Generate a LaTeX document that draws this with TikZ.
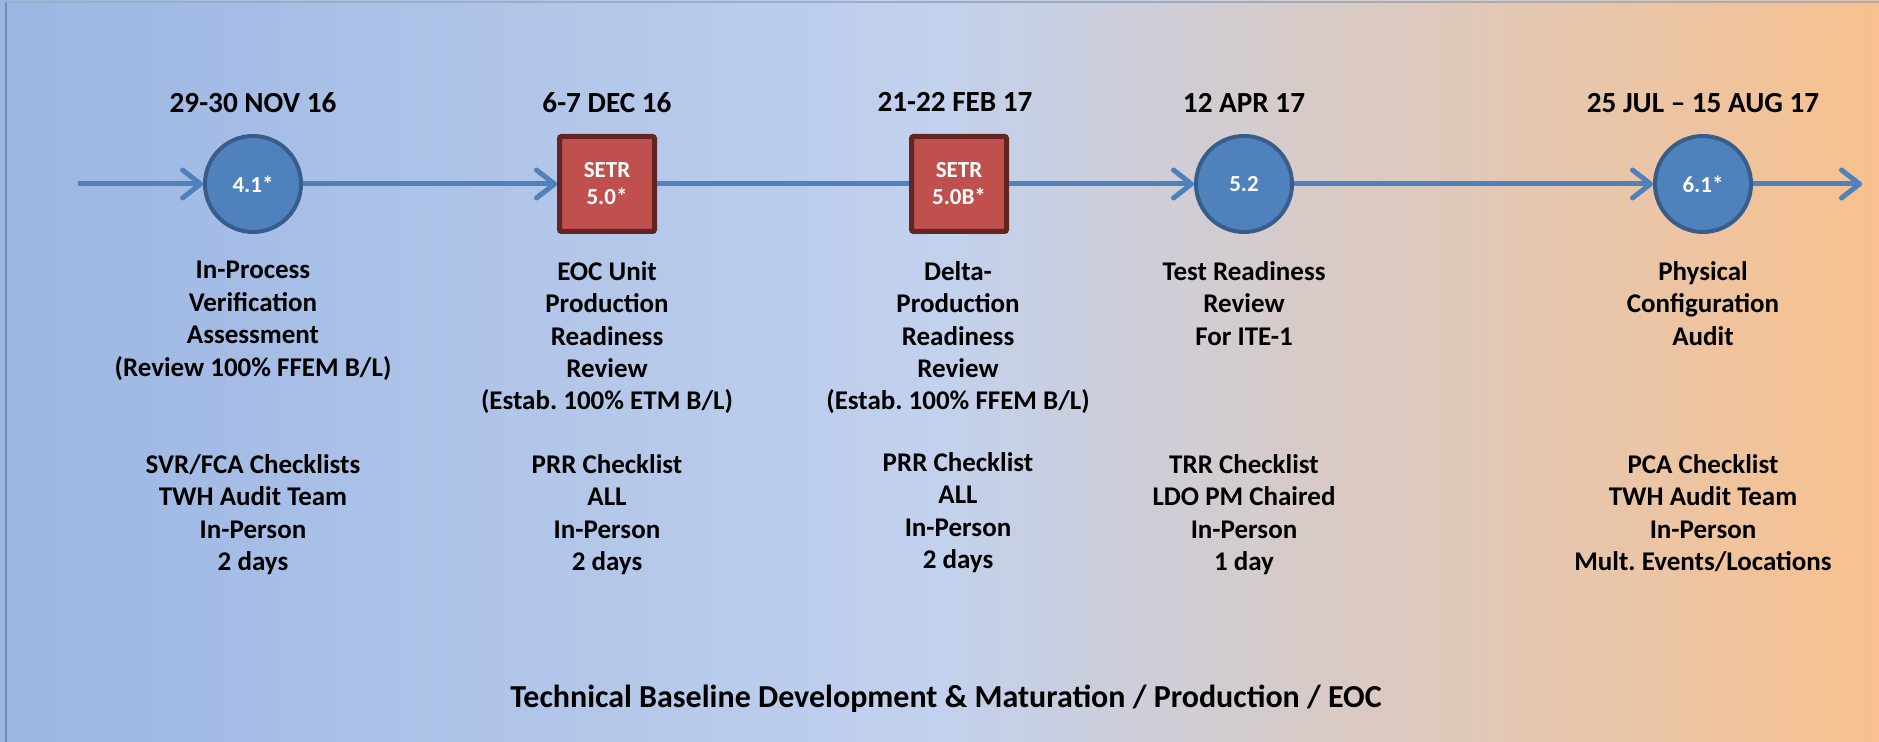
\documentclass[tikz,border=0pt]{standalone}
\usepackage{fontspec}
\setmainfont{Carlito}
\usetikzlibrary{positioning, arrows.meta}

\definecolor{bgleft}{RGB}{155,182,227}
\definecolor{bgmid}{RGB}{194,209,237}
\definecolor{bgright}{RGB}{248,193,142}
\definecolor{flowblue}{RGB}{79,129,189}
\definecolor{flowedge}{RGB}{56,93,138}
\definecolor{setrred}{RGB}{192,80,77}
\definecolor{setredge}{RGB}{99,37,35}

\begin{document}
\begin{tikzpicture}[x=0.5pt, y=-0.5pt,
    every node/.style={font=\bfseries, align=center, inner sep=0pt},
    review/.style={circle, draw=flowedge, line width=2pt, fill=flowblue, minimum size=48pt,
        text=white, font=\bfseries\fontsize{11.5}{14}\selectfont},
    setr/.style={rectangle, rounded corners=1pt, draw=setredge, line width=2.5pt, fill=setrred,
        minimum size=47.5pt, text=white, font=\bfseries\fontsize{11.5}{13.5}\selectfont},
    date/.style={anchor=base, font=\bfseries\fontsize{14.6}{17}\selectfont},
    info/.style={anchor=north, font=\bfseries\fontsize{13.5}{16.2}\selectfont},
    flow/.style={draw=flowblue, line width=2.5pt},
    flowarrow/.style={flow, -{Straight Barb[length=9pt, width=14pt, round]}}]

    \useasboundingbox (0,0) rectangle (1879,742);
    \shade[left color=bgleft, right color=bgright, middle color=bgmid] (0,0) rectangle (1879,742);
    \draw[color=flowedge!70, line width=0.8pt] (6,742) -- (6,2);
    \draw[color=flowedge!50, line width=0.8pt] (6,2) -- (1879,2);

    \node (m1) [review] at (253,184)  {4.1*};
    \node (m2) [setr]   at (607,184)  {SETR\\5.0*};
    \node (m3) [setr]   at (959,184)  {SETR\\5.0B*};
    \node (m4) [review] at (1244,184) {5.2};
    \node (m5) [review] at (1703,184) {6.1*};

    \node (d1) [date] at (253,113)  {29-30 NOV 16};
    \node (d2) [date] at (607,113)  {6-7 DEC 16};
    \node (d3) [date] at (955,112)  {21-22 FEB 17};
    \node (d4) [date] at (1244,113) {12 APR 17};
    \node (d5) [date] at (1703,113) {25 JUL -- 15 AUG 17};

    \node (r1) [info] at (253,261)  {In-Process\\Verification\\Assessment\\(Review 100\% FFEM B/L)};
    \node (r2) [info] at (607,261)  {EOC Unit\\Production\\Readiness\\Review\\(Estab.\ 100\% ETM B/L)};
    \node (r3) [info] at (958,261)  {Delta-\\Production\\Readiness\\Review\\(Estab.\ 100\% FFEM B/L)};
    \node (r4) [info] at (1244,261) {Test Readiness\\Review\\For ITE-1};
    \node (r5) [info] at (1703,261) {Physical\\Configuration\\Audit};

    \node (c1) [info] at (253,454)  {SVR/FCA Checklists\\TWH Audit Team\\In-Person\\2 days};
    \node (c2) [info] at (607,454)  {PRR Checklist\\ALL\\In-Person\\2 days};
    \node (c3) [info] at (958,452)  {PRR Checklist\\ALL\\In-Person\\2 days};
    \node (c4) [info] at (1244,454) {TRR Checklist\\LDO PM Chaired\\In-Person\\1 day};
    \node (c5) [info] at (1703,454) {PCA Checklist\\TWH Audit Team\\In-Person\\Mult.\ Events/Locations};

    \node (caption) [date, font=\bfseries\fontsize{16}{19}\selectfont] at (946,707)
        {Technical Baseline Development \& Maturation / Production / EOC};

    \coordinate (start)  at (78,184);
    \coordinate (finish) at (1862,184);

    \draw[flowarrow] (start) -- (m1);
    \draw[flowarrow] (m1) -- (m2);
    \draw[flow]      (m2) -- (m3);
    \draw[flowarrow] (m3) -- (m4);
    \draw[flowarrow] (m4) -- (m5);
    \draw[flowarrow] (m5) -- (finish);
\end{tikzpicture}
\end{document}
